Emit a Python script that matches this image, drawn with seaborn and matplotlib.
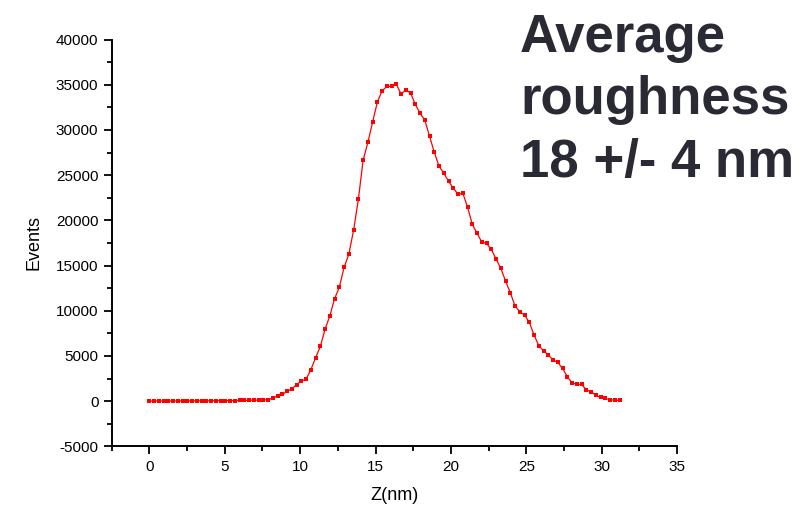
import matplotlib
matplotlib.use("Agg")
import matplotlib.pyplot as plt
import matplotlib.ticker as mticker
import numpy as np
import pandas as pd
import seaborn as sns

# roughness histogram (Z in nm, 100 bins of ~0.315 nm)
z_step = 0.315
events = [
    10, 10, 12, 15, 15, 18, 20, 22, 25, 25,
    30, 30, 35, 40, 45, 50, 55, 60, 65, 70,
    80, 90, 100, 110, 130, 160, 332, 590, 737, 1069,
    1364, 1807, 2212, 2433, 3466, 4793, 6047, 7964, 9439, 11319,
    12610, 14785, 16260, 18914, 22306, 26620, 28611, 30860, 33072, 34326,
    34805, 34805, 35063, 33957, 34437, 34068, 32814, 31819, 31081, 29275,
    27505, 25956, 25219, 24297, 23560, 22859, 23007, 21421, 19541, 18546,
    17587, 17440, 16776, 15707, 14674, 13273, 11983, 10508, 9881, 9512,
    8701, 7300, 6120, 5567, 5088, 4535, 4277, 3613, 2692, 2028,
    1844, 1844, 1254, 1032, 627, 406, 295, 147, 111, 74,
]
z_nm = [round(i * z_step, 3) for i in range(len(events))]

x_ticks = [0, 5, 10, 15, 20, 25, 30, 35]
y_ticks = [-5000, 0, 5000, 10000, 15000, 20000, 25000, 30000, 35000, 40000]
note = "Average\nroughness\n18 +/- 4 nm"

df = pd.DataFrame({"z": z_nm, "events": events})

sns.set_style("ticks")
plt.rcParams["font.family"] = ["Liberation Sans", "DejaVu Sans"]
plt.rcParams["axes.unicode_minus"] = False

fig = plt.figure(figsize=(8.09, 5.13), dpi=100)
ax = fig.add_axes([0.138, 0.130, 0.699, 0.793])

sns.lineplot(data=df, x="z", y="events", ax=ax, color="red", linewidth=0.9,
             marker="s", markersize=3.2, markeredgewidth=0, markerfacecolor="red")

ax.set_xlim(-2.5, 35)
ax.set_ylim(-5000, 40000)
ax.set_xticks(x_ticks)
ax.set_yticks(y_ticks)
ax.xaxis.set_minor_locator(mticker.AutoMinorLocator(2))
ax.yaxis.set_minor_locator(mticker.AutoMinorLocator(2))
ax.tick_params(which="major", length=6, width=1.3, labelsize=11,
               colors="black", labelcolor="black")
ax.tick_params(which="minor", length=3.5, width=1.3, colors="black")
for side in ["left", "bottom"]:
    ax.spines[side].set_linewidth(1.4)
    ax.spines[side].set_color("black")
sns.despine(ax=ax)

ax.set_xlabel("Z(nm)", fontsize=13, labelpad=10, color="black")
ax.set_ylabel("Events", fontsize=13, labelpad=10, color="black")

fig.text(0.643, 0.975, note, fontsize=38, fontweight="bold", color="#2a2a35",
         ha="left", va="top", linespacing=1.32)

fig.savefig("out.png", dpi=100)
